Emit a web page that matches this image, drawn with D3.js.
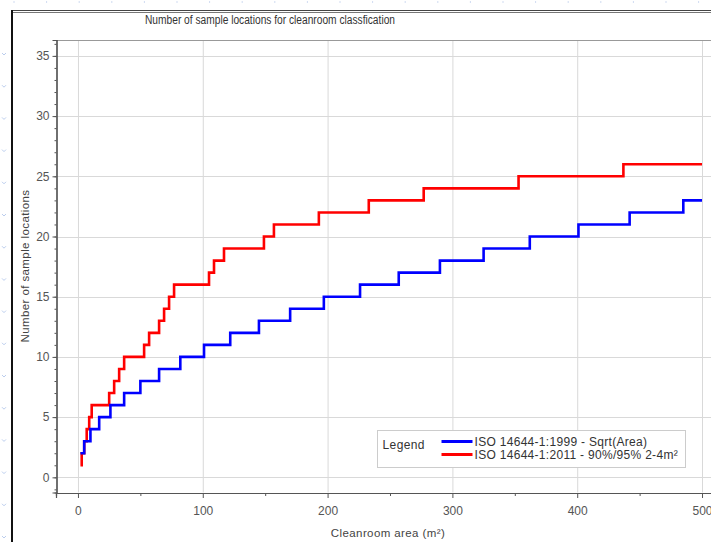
<!DOCTYPE html>
<html>
<head>
<meta charset="utf-8">
<script src="https://cdn.jsdelivr.net/npm/d3@7"></script>
<style>
  body { margin: 0; background: #fff; }
  text { font-family: "Liberation Sans", Arial, sans-serif; }
</style>
</head>
<body>
<div id="chart"></div>
<script>
// step data: area (m²) from which the count applies
let blueArea  = [2, 5, 10, 17, 26, 37, 50, 65, 82, 101, 122, 145, 170, 197, 226, 257, 290, 325, 362, 401, 442, 485, 500];
let blueCount = [2, 3, 4, 5, 6, 7, 8, 9, 10, 11, 12, 13, 14, 15, 16, 17, 18, 19, 20, 21, 22, 23, 23];
let redArea   = [2, 3, 5, 7, 9, 11, 25, 29, 33, 37, 53, 57, 65, 69, 73, 77, 105, 109, 117, 149, 157, 193, 233, 277, 353, 437, 500];
let redCount  = [1, 2, 3, 4, 5, 6, 7, 8, 9, 10, 11, 12, 13, 14, 15, 16, 17, 18, 19, 20, 21, 22, 23, 24, 25, 26, 26];

let seriesNames = ["ISO 14644-1:1999 - Sqrt(Area)", "ISO 14644-1:2011 - 90%/95% 2-4m²"];
let seriesColors = ["#0000ff", "#ff0000"];
let xTicks = [0, 100, 200, 300, 400, 500];
let xMinorTicks = [50, 150, 250, 350, 450];
let yTicks = [0, 5, 10, 15, 20, 25, 30, 35];
let yMinorTicks = d3.range(-1, 37);

let margin = {top: 40, left: 56},
    width = 664,
    height = 452.5;

let svg = d3.select("#chart").append("svg")
            .attr("width", 711)
            .attr("height", 542);

// page frame
svg.append("line").attr("x1", 12).attr("x2", 711).attr("y1", 10.5).attr("y2", 10.5)
   .attr("stroke", "#444").attr("stroke-width", 1);
svg.append("line").attr("x1", 12).attr("x2", 711).attr("y1", 12.5).attr("y2", 12.5)
   .attr("stroke", "#777").attr("stroke-width", 1);
svg.append("line").attr("x1", 12).attr("x2", 12).attr("y1", 10).attr("y2", 542)
   .attr("stroke", "#111").attr("stroke-width", 2);

// faint ruler marks outside the frame
for (let yy = 53; yy < 542; yy += 32.2) {
  svg.append("path").attr("d", "M2," + yy + " l2,2 l2,-2")
     .attr("fill", "none").attr("stroke", "#aac0e8").attr("stroke-width", 0.8);
}
for (let xx = 14; xx < 711; xx += 32.6) {
  svg.append("line").attr("x1", xx).attr("x2", xx).attr("y1", 1).attr("y2", 3)
     .attr("stroke", "#c4d2ee").attr("stroke-width", 0.8);
}

let x = d3.scaleLinear().domain([-17.6, 514.4]).range([0, width]);
let y = d3.scaleLinear().domain([-1.26, 36.32]).range([height, 0]);

let g = svg.append("g")
           .attr("transform", "translate(" + margin.left + "," + margin.top + ")");

// grid
g.selectAll(".vgrid").data(xTicks).enter().append("line")
 .attr("x1", d => x(d) + 0.5).attr("x2", d => x(d) + 0.5)
 .attr("y1", 0).attr("y2", height)
 .attr("stroke", "#d9d9d9");
g.selectAll(".hgrid").data(yTicks).enter().append("line")
 .attr("x1", 0).attr("x2", width)
 .attr("y1", d => Math.round(y(d)) + 0.5).attr("y2", d => Math.round(y(d)) + 0.5)
 .attr("stroke", "#d9d9d9");

// plot top border
g.append("line").attr("x1", 0).attr("x2", width).attr("y1", 0.5).attr("y2", 0.5)
 .attr("stroke", "#999");

// series (series 0 drawn last, on top)
let line = d3.line()
             .curve(d3.curveStepAfter)
             .x(d => x(d[0]))
             .y(d => y(d[1]));

let blueData = blueArea.map((a, i) => [a, blueCount[i]]);
let redData = redArea.map((a, i) => [a, redCount[i]]);

g.append("path").datum(redData)
 .attr("fill", "none").attr("stroke", seriesColors[1]).attr("stroke-width", 2.6)
 .attr("d", line);
g.append("path").datum(blueData)
 .attr("fill", "none").attr("stroke", seriesColors[0]).attr("stroke-width", 2.6)
 .attr("d", line);

// axes
let yAxis = g.append("g").attr("transform", "translate(0.5,0)")
   .call(d3.axisLeft(y).tickValues(yTicks).tickSize(4).tickPadding(3));
let yMinor = g.append("g").attr("transform", "translate(0.5,0)")
   .call(d3.axisLeft(y).tickValues(yMinorTicks).tickSize(2).tickFormat(""));
let xAxis = g.append("g").attr("transform", "translate(0," + (height + 0.5) + ")")
   .call(d3.axisBottom(x).tickValues(xTicks).tickSize(5).tickPadding(8));
let xMinor = g.append("g").attr("transform", "translate(0," + (height + 0.5) + ")")
   .call(d3.axisBottom(x).tickValues(xMinorTicks).tickSize(3).tickFormat(""));

[yAxis, yMinor, xAxis, xMinor].forEach(function(a) {
  a.select(".domain").attr("stroke", "#555").attr("stroke-width", 1.2);
  a.selectAll(".tick line").attr("stroke", "#555");
  a.selectAll(".tick text").attr("fill", "#555").style("font-size", "12px");
});

// titles
svg.append("text")
   .attr("x", 270).attr("y", 24)
   .attr("text-anchor", "middle")
   .attr("textLength", 250).attr("lengthAdjust", "spacingAndGlyphs")
   .style("font-size", "12px").attr("fill", "#333")
   .text("Number of sample locations for cleanroom classfication");

svg.append("text")
   .attr("x", 388).attr("y", 537)
   .attr("text-anchor", "middle")
   .style("font-size", "11.5px").style("letter-spacing", "0.4px").attr("fill", "#444")
   .text("Cleanroom area (m²)");

svg.append("text")
   .attr("transform", "translate(29,266) rotate(-90)")
   .attr("text-anchor", "middle")
   .style("font-size", "11.5px").style("letter-spacing", "0.4px").attr("fill", "#444")
   .text("Number of sample locations");

// legend
let legend = svg.append("g").attr("transform", "translate(377.5,430.5)");
legend.append("rect").attr("width", 308).attr("height", 37)
      .attr("fill", "#fff").attr("stroke", "#ccc");
legend.append("text").attr("x", 5).attr("y", 18)
      .style("font-size", "12px").style("letter-spacing", "0.4px")
      .attr("fill", "#333").text("Legend");
seriesNames.forEach(function(name, i) {
  legend.append("line")
        .attr("x1", 64).attr("x2", 95)
        .attr("y1", 11 + i * 13).attr("y2", 11 + i * 13)
        .attr("stroke", seriesColors[i]).attr("stroke-width", 3);
  legend.append("text")
        .attr("x", 97).attr("y", 15.5 + i * 13)
        .style("font-size", "12px").style("letter-spacing", "0.3px")
        .attr("fill", "#333")
        .text(name);
});
</script>
</body>
</html>
